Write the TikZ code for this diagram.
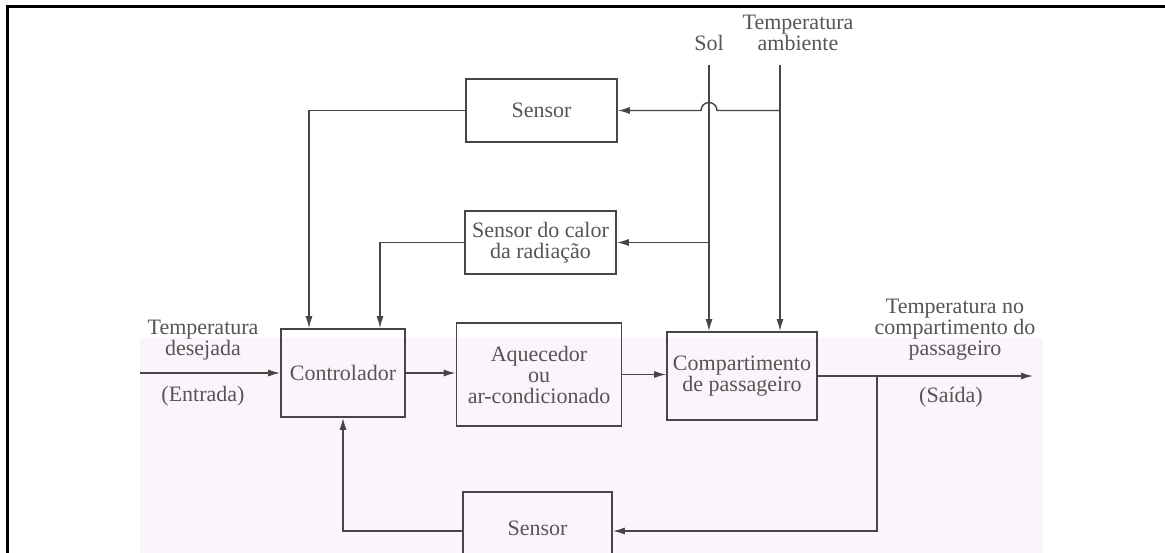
\documentclass[tikz,border=0pt]{standalone}
\usepackage{fontspec}
\setmainfont{Liberation Serif}
\usetikzlibrary{arrows.meta}
\definecolor{ln}{RGB}{70,70,70}
\definecolor{tx}{RGB}{85,85,85}
\definecolor{pinkbg}{RGB}{251,245,251}
\begin{document}
\begin{tikzpicture}[x=1pt,y=-1pt,
  txt/.style={text=tx, font=\fontsize{22}{21}\selectfont, align=center, inner sep=0pt},
  box/.style={txt, draw=ln, line width=1.6pt},
  conn/.style={draw=ln, line width=1.4pt},
  arr/.style={conn, -{Latex[length=12pt,width=7pt]}}]
\useasboundingbox (0,0) rectangle (1165,553);
\fill[white] (0,0) rectangle (1165,553);
\fill[pinkbg] (140,338) rectangle (1043,553);
\draw[black, line width=3pt] (7,560) -- (7,7) -- (1170,7);

% boxes
\node[box, minimum width=151pt, minimum height=63pt] (sensorA) at (541.5,110.5) {Sensor};
\node[box, minimum width=151pt, minimum height=63pt] (sensorB) at (540.5,242.5) {Sensor do calor\\da radiação};
\node[box, minimum width=124pt, minimum height=88pt] (ctrl) at (343,373) {Controlador};
\node[box, minimum width=165pt, minimum height=103pt] (aquec) at (539,374.5) {Aquecedor\\ou\\ar-condicionado};
\node[box, minimum width=150pt, minimum height=88pt] (comp) at (742,376) {Compartimento\\de passageiro};
\node[box, minimum width=149pt, minimum height=78pt] (sensorC) at (537.5,531) {\raisebox{5pt}{Sensor}};

% labels
\node[txt] (lsol) at (709,43) {Sol};
\node[txt] (lta) at (798,33) {Temperatura\\ambiente};
\node[txt] (lin) at (203,340) {Temperatura\\desejada};
\node[txt] (lent) at (203,396) {(Entrada)};
\node[txt] (lout) at (955,330) {Temperatura no\\compartimento do\\passageiro};
\node[txt] (lsai) at (951,397) {(Saída)};

% coordinates
\coordinate (solTop) at (709,65);
\coordinate (taTop) at (780,65);
\coordinate (solJ) at (709,242.5);
\coordinate (taJ) at (780,110.5);
\coordinate (hopR) at (717,110.5);
\coordinate (inStart) at (140,373);
\coordinate (outEnd) at (1033,376);
\coordinate (br) at (877,376);

% connectors
\draw[arr] (solTop) -- (solTop |- comp.north);
\draw[arr] (taTop) -- (taTop |- comp.north);
\draw[arr] (taJ) -- (hopR) arc[start angle=0, end angle=180, radius=8pt] -- (sensorA.east);
\draw[arr] (solJ) -- (sensorB.east);
\draw[arr] (sensorA.west) -| ([xshift=-34pt]ctrl.north);
\draw[arr] (sensorB.west) -| ([xshift=37pt]ctrl.north);
\draw[arr] (inStart) -- (ctrl.west);
\draw[arr] (ctrl.east) -- (ctrl.east -| aquec.west);
\draw[arr] (aquec.east) -- (aquec.east -| comp.west);
\draw[arr] (comp.east) -- (outEnd);
\draw[arr] (br) |- (sensorC.east);
\draw[arr] (sensorC.west) -| (ctrl.south);
\end{tikzpicture}
\end{document}
